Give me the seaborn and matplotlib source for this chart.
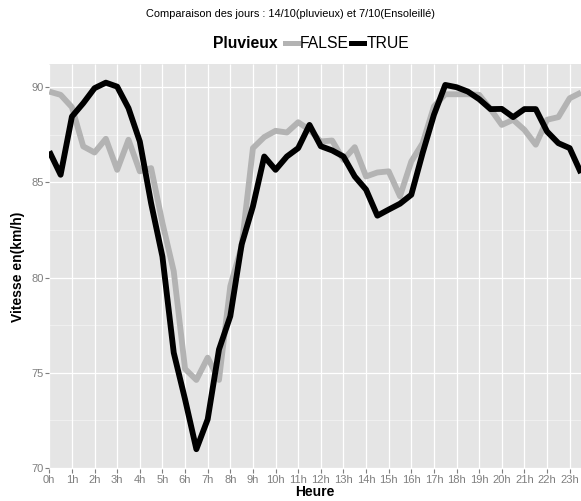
import numpy as np
import pandas as pd
import matplotlib
matplotlib.use("Agg")
import matplotlib.pyplot as plt
from matplotlib.lines import Line2D
import seaborn as sns

# Half-hour time steps (hours) and mean speeds for each day type
heures = [h / 2 for h in range(48)]

vitesse_false = [
    89.77, 89.60, 88.95, 86.89, 86.57, 87.29, 85.66, 87.24, 85.58, 85.75,
    82.87, 80.33, 75.20, 74.62, 75.79, 74.62, 79.55, 81.64, 86.80, 87.38,
    87.71, 87.62, 88.16, 87.76, 87.15, 87.20, 86.19, 86.85, 85.31, 85.52,
    85.58, 84.27, 86.10, 87.06, 88.99, 89.63, 89.63, 89.63, 89.60, 88.85,
    88.02, 88.29, 87.76, 86.98, 88.29, 88.43, 89.42, 89.72,
]

vitesse_true = [
    86.63, 85.40, 88.46, 89.16, 89.95, 90.24, 90.03, 88.90, 87.15, 83.90,
    81.10, 76.05, 73.60, 70.98, 72.55, 76.22, 77.97, 81.73, 83.74, 86.36,
    85.66, 86.36, 86.80, 88.02, 86.90, 86.68, 86.36, 85.31, 84.62, 83.25,
    83.57, 83.88, 84.35, 86.54, 88.55, 90.12, 90.00, 89.77, 89.37, 88.85,
    88.86, 88.43, 88.85, 88.85, 87.67, 87.06, 86.80, 85.49,
]

pluvieux_levels = ["FALSE", "TRUE"]
tick_hours = list(range(24))
tick_labels = [f"{h}h" for h in tick_hours]
y_ticks = [70, 75, 80, 85, 90]

df = pd.DataFrame({
    "Heure": heures * 2,
    "Vitesse": vitesse_false + vitesse_true,
    "Pluvieux": ["FALSE"] * len(heures) + ["TRUE"] * len(heures),
})

palette = {"FALSE": "#b3b3b3", "TRUE": "#000000"}
font = "Liberation Sans"
plt.rcParams["font.family"] = [font, "DejaVu Sans"]

fig = plt.figure(figsize=(5.81, 5.01), dpi=100)
W, H = 581, 501
left, right, top, bottom = 49.3, 581, 64, 469
ax = fig.add_axes([left / W, 1 - bottom / H, (right - left) / W, (bottom - top) / H])
ax.set_facecolor("#e5e5e5")

# Grid: white major lines, lighter minor lines on y
for y in y_ticks:
    ax.axhline(y, color="white", lw=0.9, zorder=0)
for y in [72.5, 77.5, 82.5, 87.5]:
    ax.axhline(y, color="#f2f2f2", lw=0.6, zorder=0)
for x in tick_hours:
    ax.axvline(x, color="white", lw=0.9, zorder=0)

sns.lineplot(data=df, x="Heure", y="Vitesse", hue="Pluvieux", hue_order=pluvieux_levels,
             palette=palette, linewidth=4.2, legend=False, ax=ax, zorder=2)
for line in ax.get_lines():
    line.set_solid_joinstyle("round")
    line.set_solid_capstyle("butt")

ax.set_xlim(0, 23.5)
ax.set_ylim(69.94, 91.22)
ax.set_xticks(tick_hours)
ax.set_xticklabels(tick_labels)
ax.set_yticks(y_ticks)
ax.tick_params(axis="both", colors="#7f7f7f", labelcolor="#7f7f7f", labelsize=8,
               length=3, width=0.8, pad=1)
for s in ax.spines.values():
    s.set_visible(False)
ax.set_xlabel("")
ax.set_ylabel("")

# Titles and axis labels
fig.text(291 / W, 1 - 14 / H, "Comparaison des jours : 14/10(pluvieux) et 7/10(Ensoleillé)",
         ha="center", va="center", fontsize=7.9, color="black")
fig.text((left + right) / 2 / W, 1 - 492 / H, "Heure", ha="center", va="center",
         fontsize=10, fontweight="bold")
fig.text(18 / W, 1 - (top + bottom) / 2 / H, "Vitesse en(km/h)", ha="center", va="center",
         rotation=90, fontsize=10, fontweight="bold")

# Legend row: bold title then keys
fig.text(213 / W, 1 - 44 / H, "Pluvieux", ha="left", va="center", fontsize=11.3,
         fontweight="bold")
handles = [Line2D([0], [0], color=palette[k], lw=3.6) for k in pluvieux_levels]
fig.legend(handles, pluvieux_levels, loc="center left", bbox_to_anchor=(285 / W, 1 - 44 / H),
           ncol=2, frameon=False, fontsize=11.3, handlelength=0.8, handletextpad=0.15,
           columnspacing=0.15, borderaxespad=0, borderpad=0)

fig.savefig("out.png", dpi=100)
